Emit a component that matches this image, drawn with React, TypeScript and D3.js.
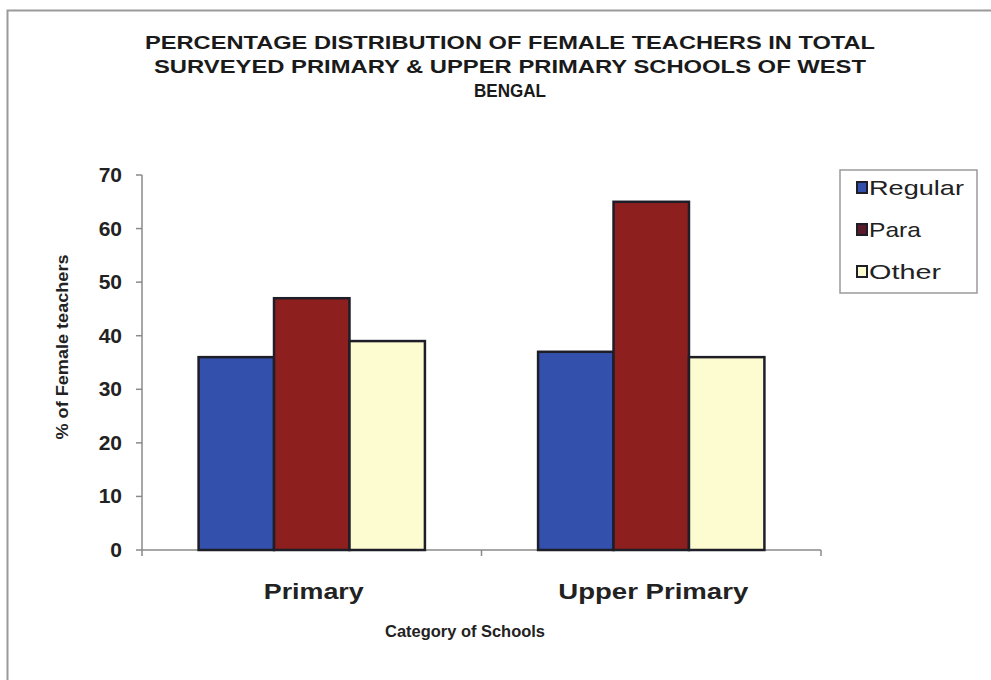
import React from "react";
import * as d3 from "d3";

const categories = ["Primary", "Upper Primary"];
const seriesNames = ["Regular", "Para", "Other"];
const regular = [36, 37];
const para = [47, 65];
const other = [39, 36];
const yTicks = [0, 10, 20, 30, 40, 50, 60, 70];
const titleLines = [
  "PERCENTAGE DISTRIBUTION OF FEMALE TEACHERS IN TOTAL",
  "SURVEYED PRIMARY & UPPER PRIMARY SCHOOLS OF WEST",
  "BENGAL",
];

const colors = ["#3450ad", "#8e1f1f", "#fdfbd0"];
const legendColors = ["#3450ad", "#5a1a2a", "#fdfbd0"];

export default function App() {
  const W = 991, H = 680;
  const x0 = 142, x1 = 821, yTop = 175, yBot = 550;
  const x = d3.scaleBand<string>().domain(categories).range([x0, x1]).paddingInner(0).paddingOuter(0);
  const y = d3.scaleLinear().domain([0, 70]).range([yBot, yTop]);
  const bw = x.bandwidth() / 4.5;
  const xs = d3.scaleBand<string>().domain(seriesNames).range([0, bw * 3]);
  const values = [regular, para, other];
  const font = "'Liberation Sans', Arial, sans-serif";
  const titleWidths = [730, 712, 72];
  const catWidths = [100, 190];
  const legendWidths = [95, 52, 72];
  return (
    <svg width={W} height={H} style={{ position: "absolute", left: 0, top: 0 }}>
      <rect x={0} y={0} width={W} height={H} fill="#fff" />
      <path d={`M7.5,${H} V10.5 H${W}`} fill="none" stroke="#9a9a9a" strokeWidth={2} />
      {titleLines.map((t, i) => (
        <text key={i} x={510} y={49 + i * 24} textAnchor="middle" fontFamily={font} fontWeight="bold"
          fontSize={19} fill="#1a1a1a" textLength={titleWidths[i]} lengthAdjust="spacingAndGlyphs">{t}</text>
      ))}
      {/* axes */}
      <line x1={x0} x2={x0} y1={yTop} y2={yBot} stroke="#8a8a8a" strokeWidth={1.5} />
      <line x1={x0} x2={x1} y1={yBot} y2={yBot} stroke="#8a8a8a" strokeWidth={1.5} />
      {yTicks.map((t) => (
        <g key={t}>
          <line x1={x0 - 6} x2={x0} y1={y(t)} y2={y(t)} stroke="#8a8a8a" strokeWidth={1.5} />
          <text x={122} y={y(t) + 7} textAnchor="end" fontFamily={font} fontWeight="bold" fontSize={21} fill="#222">{t}</text>
        </g>
      ))}
      {[x0, x0 + x.bandwidth(), x1].map((v, i) => (
        <line key={i} x1={v} x2={v} y1={yBot} y2={yBot + 6} stroke="#8a8a8a" strokeWidth={1.5} />
      ))}
      {categories.map((c, ci) => (
        <g key={c}>
          {seriesNames.map((s, si) => {
            const bx = (x(c) as number) + bw * 0.75 + (xs(s) as number);
            const v = values[si][ci];
            return (
              <rect key={s} x={bx} y={y(v)} width={bw} height={yBot - y(v)} fill={colors[si]}
                stroke="#1e1e28" strokeWidth={2.5} />
            );
          })}
          <text x={(x(c) as number) + x.bandwidth() / 2 + 2} y={599} textAnchor="middle" fontFamily={font}
            fontWeight="bold" fontSize={22} fill="#222" textLength={catWidths[ci]} lengthAdjust="spacingAndGlyphs">{c}</text>
        </g>
      ))}
      <text x={465} y={637} textAnchor="middle" fontFamily={font} fontWeight="bold" fontSize={16} fill="#222"
        textLength={160} lengthAdjust="spacingAndGlyphs">Category of Schools</text>
      <text transform={`translate(68,347) rotate(-90)`} textAnchor="middle" fontFamily={font} fontWeight="bold"
        fontSize={17} fill="#222" textLength={185} lengthAdjust="spacingAndGlyphs">% of Female teachers</text>
      {/* legend */}
      <rect x={840} y={170} width={137} height={123} fill="#fff" stroke="#9a9a9a" strokeWidth={1.5} />
      {seriesNames.map((s, i) => (
        <g key={s}>
          <rect x={857} y={182 + i * 42} width={10} height={11} fill={legendColors[i]} stroke="#1e1e28" strokeWidth={2} />
          <text x={869} y={195 + i * 42} fontFamily={font} fontSize={21} fill="#222"
            textLength={legendWidths[i]} lengthAdjust="spacingAndGlyphs">{s}</text>
        </g>
      ))}
    </svg>
  );
}
